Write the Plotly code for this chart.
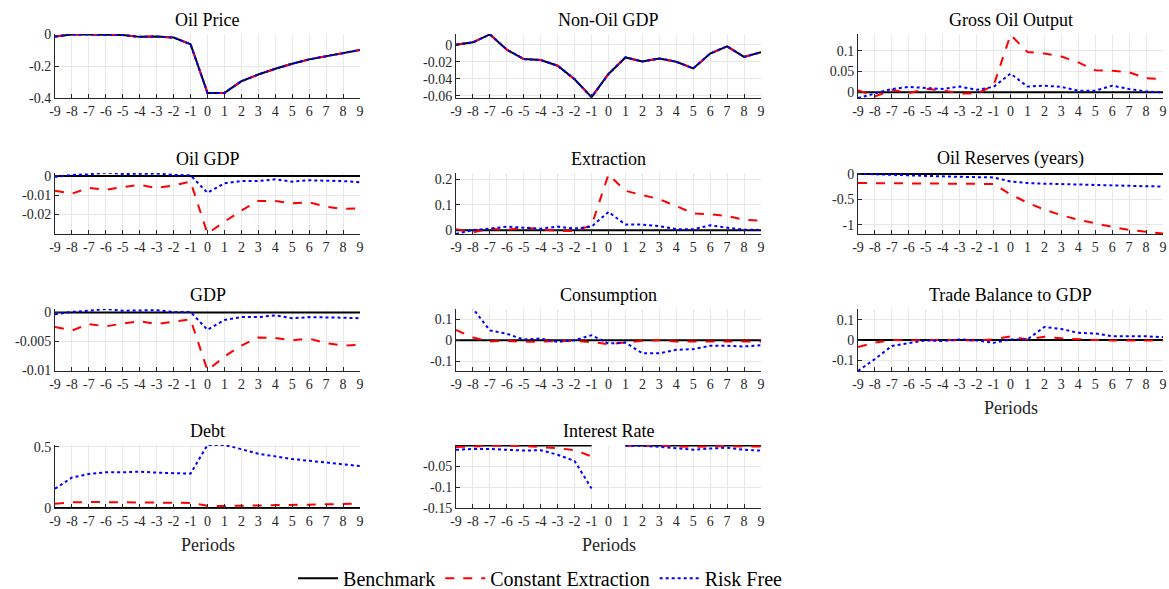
import plotly.graph_objects as go

periods = list(range(-9, 10))
tick_labels = [str(p) for p in periods]
ZERO = [0, 0, 0, 0, 0, 0, 0, 0, 0, 0, 0, 0, 0, 0, 0, 0, 0, 0, 0]

titles = ["Oil Price", "Non-Oil GDP", "Gross Oil Output", "Oil GDP", "Extraction",
          "Oil Reserves (years)", "GDP", "Consumption", "Trade Balance to GDP",
          "Debt", "Interest Rate"]

oil_price = [-0.015, -0.002, -0.002, -0.004, -0.006, -0.017, -0.015, -0.021, -0.063, -0.368,
             -0.368, -0.295, -0.253, -0.217, -0.185, -0.158, -0.137, -0.116, -0.099]
nonoil_gdp = [0.0, 0.0027, 0.012, -0.0058, -0.0169, -0.018, -0.0247, -0.0406, -0.0615, -0.0344,
              -0.015, -0.0197, -0.0162, -0.02, -0.0278, -0.0104, -0.0019, -0.0143, -0.0089]

gross_red = [0.005, -0.01, 0.006, -0.002, 0.008, 0.005, -0.003, -0.003, 0.016, 0.138,
             0.097, 0.093, 0.086, 0.072, 0.053, 0.052, 0.048, 0.034, 0.032]
gross_blue = [-0.0136, -0.002, 0.008, 0.013, 0.010, 0.008, 0.014, 0.006, 0.013, 0.045,
              0.014, 0.016, 0.013, 0.004, 0.004, 0.016, 0.008, 0.002, 0.0]

oilgdp_red = [-0.0077, -0.0092, -0.0063, -0.0072, -0.0058, -0.0047, -0.0063, -0.005, -0.003, -0.030,
              -0.0238, -0.018, -0.013, -0.013, -0.0143, -0.0137, -0.016, -0.0172, -0.0168]
oilgdp_blue = [-0.0005, 0.0005, 0.0008, 0.0017, 0.001, 0.001, 0.0012, 0.0005, 0.0003, -0.0088,
               -0.0038, -0.0027, -0.0027, -0.0018, -0.003, -0.0023, -0.0025, -0.0027, -0.0033]

extr_red = [0.004, -0.009, 0.006, 0.001, 0.01, 0.004, -0.003, -0.003, 0.019, 0.219,
            0.155, 0.138, 0.122, 0.095, 0.066, 0.063, 0.056, 0.041, 0.037]
extr_blue = [-0.015, 0.001, 0.006, 0.014, 0.01, 0.006, 0.014, 0.006, 0.014, 0.072,
             0.022, 0.022, 0.016, 0.004, 0.004, 0.019, 0.01, 0.002, 0.001]

res_red = [-0.178, -0.18, -0.182, -0.184, -0.186, -0.188, -0.19, -0.192, -0.196, -0.40,
           -0.565, -0.70, -0.81, -0.90, -0.975, -1.04, -1.10, -1.135, -1.17]
res_blue = [0.005, 0.0, -0.012, -0.025, -0.037, -0.05, -0.055, -0.061, -0.067, -0.147,
            -0.178, -0.19, -0.2, -0.21, -0.215, -0.227, -0.233, -0.24, -0.245]

gdp_red = [-0.0025, -0.0031, -0.002, -0.0024, -0.0019, -0.0015, -0.002, -0.0016, -0.0012, -0.01,
           -0.0076, -0.0057, -0.0043, -0.0044, -0.0048, -0.0045, -0.0053, -0.0057, -0.0056]
gdp_blue = [-0.0003, 0.0001, 0.0003, 0.0006, 0.0003, 0.0003, 0.0004, 0.0001, 0.0001, -0.003,
            -0.0013, -0.0008, -0.0008, -0.0005, -0.001, -0.0008, -0.0008, -0.0009, -0.001]

cons_red = [0.049, 0.013, -0.006, -0.003, -0.008, -0.006, -0.003, -0.003, -0.009, -0.019,
            -0.011, -0.003, 0.0, -0.006, -0.006, -0.006, -0.006, -0.006, -0.006]
cons_blue = [0.35, 0.152, 0.047, 0.031, 0.003, 0.008, -0.008, 0.0, 0.024, -0.016,
             -0.011, -0.063, -0.063, -0.046, -0.043, -0.027, -0.027, -0.03, -0.024]

tb_red = [-0.034, -0.013, 0.0, -0.002, -0.002, 0.0, 0.0, -0.002, 0.003, 0.018,
          0.002, 0.016, 0.008, 0.003, 0.0, -0.002, -0.003, -0.003, -0.003]
tb_blue = [-0.152, -0.093, -0.029, -0.016, -0.002, -0.005, 0.003, -0.002, -0.014, 0.003,
           0.003, 0.064, 0.054, 0.035, 0.032, 0.019, 0.019, 0.018, 0.014]

debt_red = [0.035, 0.046, 0.049, 0.049, 0.046, 0.043, 0.043, 0.043, 0.041, 0.019,
            0.016, 0.019, 0.022, 0.024, 0.027, 0.03, 0.03, 0.032, 0.035]
debt_blue = [0.157, 0.249, 0.278, 0.292, 0.292, 0.297, 0.289, 0.286, 0.281, 0.516,
             0.516, 0.481, 0.443, 0.422, 0.4, 0.386, 0.373, 0.359, 0.343]

ir_black = [0, 0, 0, 0, 0, 0, 0, 0, 0, None, 0, 0, 0, 0, 0, 0, 0, 0, 0]
ir_red = [-0.0035, -0.0012, -0.0004, -0.0004, -0.001, -0.0035, -0.006, -0.011, -0.026, None,
          0.0, 0.0, -0.0004, -0.002, -0.003, -0.002, -0.001, -0.002, -0.002]
ir_blue = [-0.01, -0.008, -0.008, -0.01, -0.012, -0.011, -0.022, -0.037, -0.103, None,
           0.0, -0.0004, -0.003, -0.006, -0.01, -0.007, -0.005, -0.01, -0.012]

series = [
    (oil_price, oil_price, oil_price),
    (nonoil_gdp, nonoil_gdp, nonoil_gdp),
    (ZERO, gross_red, gross_blue),
    (ZERO, oilgdp_red, oilgdp_blue),
    (ZERO, extr_red, extr_blue),
    (ZERO, res_red, res_blue),
    (ZERO, gdp_red, gdp_blue),
    (ZERO, cons_red, cons_blue),
    (ZERO, tb_red, tb_blue),
    (ZERO, debt_red, debt_blue),
    (ir_black, ir_red, ir_blue),
]

yticks = [
    [-0.4, -0.2, 0], [-0.06, -0.04, -0.02, 0], [0, 0.05, 0.1], [-0.02, -0.01, 0],
    [0, 0.1, 0.2], [-1, -0.5, 0], [-0.01, -0.005, 0], [-0.1, 0, 0.1], [-0.1, 0, 0.1],
    [0, 0.5], [-0.15, -0.1, -0.05],
]
ytick_text = [
    ["-0.4", "-0.2", "0"], ["-0.06", "-0.04", "-0.02", "0"], ["0", "0.05", "0.1"],
    ["-0.02", "-0.01", "0"], ["0", "0.1", "0.2"], ["-1", "-0.5", "0"],
    ["-0.01", "-0.005", "0"], ["-0.1", "0", "0.1"], ["-0.1", "0", "0.1"],
    ["0", "0.5"], ["-0.15", "-0.1", "-0.05"],
]
yranges = [
    [-0.4, 0.001], [-0.0625, 0.0125], [-0.0136, 0.14], [-0.0302, 0.0015],
    [-0.015, 0.225], [-1.18, 0.02], [-0.0101, 0.0006], [-0.148, 0.15],
    [-0.152, 0.152], [0, 0.515], [-0.15, 0.0015],
]

SERIF = "Liberation Serif"

W, H = 1169, 589
col_px = [(55, 360), (456, 761), (858, 1163)]
row_px = [(34, 98), (173, 234), (309, 371), (445, 508)]
positions = [(0, 0), (0, 1), (0, 2), (1, 0), (1, 1), (1, 2), (2, 0), (2, 1), (2, 2), (3, 0), (3, 1)]
periods_label = [8, 9, 10]

fig = go.Figure()
layout = dict(
    width=W, height=H, margin=dict(l=0, r=0, t=0, b=0, autoexpand=False),
    paper_bgcolor="white", plot_bgcolor="white",
    font=dict(family=SERIF, size=14, color="#262626"),
    showlegend=True,
    legend=dict(orientation="h", x=0.462, xanchor="center", y=-0.015, yanchor="bottom",
                font=dict(family=SERIF, size=20, color="black"),
                itemwidth=40, tracegroupgap=0, bgcolor="rgba(0,0,0,0)"),
)
annotations = []
names = ["Benchmark", "Constant Extraction", "Risk Free"]
styles = [dict(color="black", width=2, dash="solid"),
          dict(color="#ff0000", width=2, dash="dash"),
          dict(color="#0000ff", width=2, dash="dot")]

for i, (r, c) in enumerate(positions):
    k = i + 1
    xa = "x" if k == 1 else f"x{k}"
    ya = "y" if k == 1 else f"y{k}"
    x0, x1 = col_px[c]
    t0, b0 = row_px[r]
    xdom = [x0 / W, x1 / W]
    ydom = [1 - b0 / H, 1 - t0 / H]
    for j in range(3):
        fig.add_trace(go.Scatter(
            x=periods, y=series[i][j], mode="lines", line=styles[j],
            name=names[j], legendgroup=names[j], showlegend=(i == 0),
            xaxis=xa, yaxis=ya, connectgaps=False, hoverinfo="skip"))
    common = dict(showgrid=True, gridcolor="#e8e8e8", gridwidth=1, zeroline=False,
                  showline=True, linecolor="#262626", linewidth=1,
                  ticks="inside", ticklen=4, tickcolor="#262626", tickwidth=1,
                  automargin=False,
                  tickfont=dict(family=SERIF, size=14, color="#262626"))
    layout["xaxis" if k == 1 else f"xaxis{k}"] = dict(
        domain=xdom, anchor=ya, range=[-9, 9], tickmode="array",
        tickvals=periods, ticktext=tick_labels, **common)
    layout["yaxis" if k == 1 else f"yaxis{k}"] = dict(
        domain=ydom, anchor=xa, range=yranges[i], tickmode="array",
        tickvals=yticks[i], ticktext=ytick_text[i], **common)
    annotations.append(dict(
        text=titles[i], x=(xdom[0] + xdom[1]) / 2, y=ydom[1], xref="paper", yref="paper",
        xanchor="center", yanchor="bottom", yshift=2, showarrow=False,
        font=dict(family=SERIF, size=18, color="black")))
    if i in periods_label:
        annotations.append(dict(
            text="Periods", x=(xdom[0] + xdom[1]) / 2, y=ydom[0], xref="paper", yref="paper",
            xanchor="center", yanchor="top", yshift=-25, showarrow=False,
            font=dict(family=SERIF, size=18, color="#262626")))

layout["annotations"] = annotations
fig.update_layout(**layout)
fig.write_html("out.html")
